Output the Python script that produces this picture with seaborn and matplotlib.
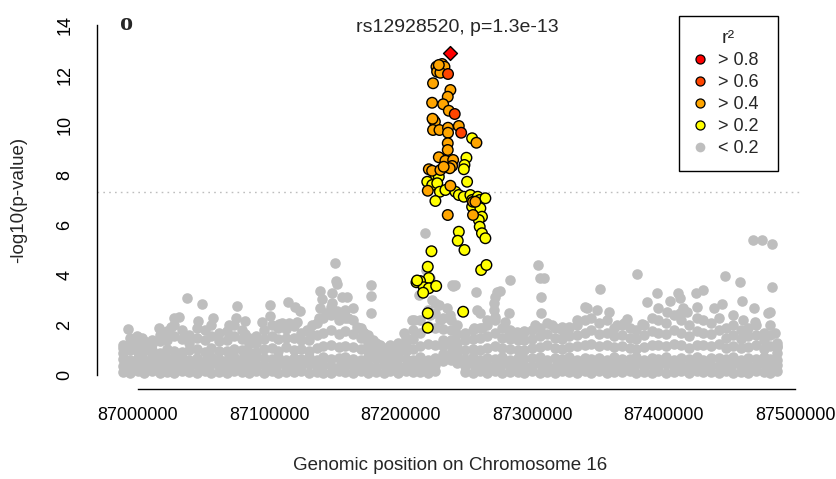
import matplotlib
matplotlib.use("Agg")
import matplotlib.pyplot as plt
from matplotlib.lines import Line2D
import numpy as np
import pandas as pd
import seaborn as sns

# ---------------- data (positions in kb relative to 87,000,000 on chr16) ----------------
REGION_START = 87_000_000

band_kb = [-11, -6, 0, 5, 11, 17, 22, 28, 34, 39, 45, 51, 56, 62, 68, 73, 79, 85, 90, 96,
           102, 107, 113, 119, 124, 130, 136, 141, 147, 153, 158, 164, 170, 175, 181, 187, 192, 198, 204, 209,
           215, 221, 226, 232, 238, 243, 249, 255, 260, 266, 272, 277, 283, 289, 294, 300, 306, 311, 317, 323,
           328, 334, 340, 345, 351, 357, 362, 368, 374, 379, 385, 391, 396, 402, 408, 413, 419, 425, 430, 436,
           442, 447, 453, 459, 464, 470, 476, 481, 486]
band_low = [0.12, 0.1, 0.15, 0.1, 0.18, 0.08, 0.14, 0.09, 0.17, 0.11,
            0.08, 0.16, 0.1, 0.13, 0.08, 0.18, 0.12, 0.09, 0.15, 0.1,
            0.18, 0.08, 0.13, 0.11, 0.17, 0.08, 0.14, 0.1, 0.09, 0.16,
            0.12, 0.09, 0.18, 0.08, 0.13, 0.1, 0.15, 0.09, 0.18, 0.11,
            0.14, 0.09, 0.16, 0.55, 0.6, 0.5, 0.12, 0.08, 0.15, 0.1,
            0.18, 0.09, 0.13, 0.11, 0.08, 0.16, 0.1, 0.14, 0.09, 0.18,
            0.12, 0.08, 0.15, 0.1, 0.17, 0.09, 0.13, 0.11, 0.18, 0.08,
            0.14, 0.1, 0.16, 0.09, 0.12, 0.18, 0.08, 0.15, 0.11, 0.13,
            0.09, 0.17, 0.1, 0.14, 0.08, 0.16, 0.12, 0.09, 0.15]
band_mid = [0.38, 0.34, 0.42, 0.35, 0.44, 0.33, 0.4, 0.37, 0.45, 0.34,
            0.41, 0.32, 0.43, 0.38, 0.35, 0.46, 0.37, 0.33, 0.42, 0.39,
            0.36, 0.44, 0.32, 0.41, 0.38, 0.45, 0.34, 0.42, 0.37, 0.33,
            0.44, 0.38, 0.35, 0.41, 0.32, 0.39, 0.43, 0.35, 0.38, 0.36,
            0.45, 0.34, 0.41, 0.85, 0.9, 0.8, 0.36, 0.43, 0.34, 0.4,
            0.37, 0.44, 0.33, 0.42, 0.38, 0.35, 0.46, 0.38, 0.34, 0.42,
            0.39, 0.32, 0.44, 0.36, 0.41, 0.35, 0.44, 0.38, 0.36, 0.43,
            0.33, 0.41, 0.38, 0.46, 0.34, 0.4, 0.37, 0.44, 0.35, 0.42,
            0.38, 0.33, 0.43, 0.36, 0.41, 0.35, 0.44, 0.38, 0.42]
band_upper = [0.65, 0.6, 0.7, 0.62, 0.73, 0.59, 0.68, 0.64, 0.72, 0.61,
              0.69, 0.58, 0.71, 0.66, 0.62, 0.74, 0.65, 0.6, 0.69, 0.67,
              0.63, 0.72, 0.59, 0.7, 0.66, 0.73, 0.61, 0.71, 0.63, 0.67,
              0.72, 0.65, 0.6, 0.71, 0.64, 0.68, 0.59, 0.7, 0.66, 0.62,
              0.73, 0.61, 0.69, 1.15, 1.2, 1.1, 0.65, 0.71, 0.6, 0.68,
              0.66, 0.72, 0.59, 0.7, 0.63, 0.67, 0.74, 0.62, 0.69, 0.65,
              0.71, 0.6, 0.7, 0.64, 0.68, 0.61, 0.73, 0.66, 0.63, 0.71,
              0.59, 0.69, 0.66, 0.74, 0.61, 0.68, 0.65, 0.72, 0.6, 0.7,
              0.67, 0.63, 0.71, 0.62, 0.69, 0.65, 0.73, 0.66, 0.61]
band_high = [0.9, 1.0, 0.92, 0.98, 1.02, 0.9, 1.05, 0.95, 0.93, 1.0,
             1.04, 0.92, 1.1, 0.98, 0.95, 1.06, 1.02, 0.9, 0.94, 1.03,
             1.08, 0.96, 1.12, 1.0, 1.06, 0.95, 1.1, 1.15, 1.2, 1.14,
             1.18, 1.12, 1.05, 0.98, 0.88, 0.86, 0.87, 0.9, 0.95, 1.05,
             1.15, 1.25, 1.22, 1.4, 1.4, 1.3, 1.0, 1.05, 1.02, 1.1,
             1.15, 1.08, 1.05, 1.02, 1.0, 1.08, 1.12, 1.2, 1.1, 1.05,
             1.12, 1.18, 1.22, 1.25, 1.15, 1.2, 1.12, 1.18, 1.1, 1.05,
             1.12, 1.22, 1.2, 1.15, 1.25, 1.2, 1.1, 1.22, 1.2, 1.15,
             1.24, 1.1, 1.15, 1.08, 1.12, 1.2, 1.05, 1.15, 0.9]
band_crest = [1.1, 1.3, 1.2, 1.15, 1.25, 1.35, 1.4, 1.55, 1.45, 1.3,
              1.5, 1.4, 1.55, 1.35, 1.4, 1.55, 1.45, 1.25, 1.3, 1.45,
              1.55, 1.45, 1.5, 1.5, 1.4, 1.4, 1.6, 1.7, 1.8, 1.65,
              1.75, 1.65, 1.5, 1.3, 1.1, 1.0, 1.05, 1.1, 1.25, 1.45,
              1.7, 1.95, 1.9, 1.85, 1.8, 1.65, 1.4, 1.45, 1.5, 1.55,
              1.7, 1.5, 1.45, 1.4, 1.4, 1.45, 1.55, 1.65, 1.5, 1.45,
              1.55, 1.6, 1.7, 1.8, 1.65, 1.7, 1.55, 1.6, 1.5, 1.45,
              1.6, 1.75, 1.7, 1.65, 1.8, 1.7, 1.55, 1.75, 1.7, 1.65,
              1.8, 1.5, 1.6, 1.45, 1.55, 1.6, 1.4, 1.6, 1.15]
band_top = [1.2, 1.5, 1.3, 1.35, 1.4, 1.6, 1.75, 2.0, 1.8, 1.6,
            1.9, 1.8, 2.0, 1.7, 1.75, 2.0, 1.8, 1.5, 1.55, 1.8,
            2.0, 1.9, 1.85, 1.95, 1.7, 1.75, 2.1, 2.3, 2.4, 2.2,
            2.3, 2.2, 1.9, 1.6, 1.3, 1.1, 1.2, 1.3, 1.5, 1.8,
            2.2, 2.6, 2.5, 2.3, 2.2, 2.0, 1.7, 1.8, 1.9, 2.0,
            2.2, 1.9, 1.8, 1.7, 1.75, 1.8, 1.9, 2.1, 1.9, 1.8,
            1.9, 2.0, 2.2, 2.3, 2.1, 2.2, 1.9, 2.0, 1.9, 1.8,
            2.0, 2.3, 2.2, 2.1, 2.4, 2.2, 2.0, 2.3, 2.2, 2.1,
            2.3, 1.9, 2.0, 1.8, 1.9, 2.0, 1.7, 2.0, 1.3]

# isolated low-LD (r2 < 0.2) SNPs above the dense band
gray_kb = [-7.5, -0.2, 3.5, 16, 25, 27.6, 31.4, 37.5, 46, 48.6, 57.5, 69.4, 75.5, 75, 81.3, 82, 94.7,
           100.3, 100.5, 107.4, 110, 114.5, 115, 119.5, 121.4, 123.5, 129, 130.2, 132.7, 137.8, 138.5,
           139, 140, 142.9, 146.7, 147.4, 148, 150, 151, 151.5, 151.7, 155.5, 158, 159.3, 157, 160, 164,
           167, 168, 171, 172, 177.6, 177.6, 177.6, 179, 184.6, 202.4, 208.7, 210, 218.8, 214, 217, 219,
           222, 224, 226, 222.6, 229, 230, 235.4, 237.8, 239, 240, 241.6, 255.5, 257.6, 258, 260.6, 262,
           265.7, 270.7, 271, 272, 272, 273.3, 275.8, 279.6, 282, 282, 283.4, 288.5, 293.5, 302, 304.5,
           306, 308.7, 307, 307, 315, 322.6, 327.7, 334, 340, 341.7, 349.3, 351.5, 358.1, 364.5, 369.5,
           372, 379.5, 383.5, 387.5, 395, 396, 402.5, 405, 411, 412.6, 412.6, 415, 417.7, 424.5, 425,
           430, 438, 444.3, 446.8, 453, 458.2, 459.5, 460.6, 467.8, 468.5, 469.6, 474.6, 479, 481, 482.2,
           482.7, 484.8, 486]
gray_logp = [1.84, 1.56, 1.5, 1.9, 1.93, 2.27, 2.33, 3.1, 2.17, 2.84, 2.3, 2.0, 2.77, 2.27, 2.16, 1.64, 2.13,
             2.81, 2.36, 2.04, 2.07, 2.93, 2.09, 2.73, 2.13, 2.55, 1.8, 1.73, 2.0, 2.27, 3.37,
             2.7, 3.03, 2.47, 2.73, 3.27, 2.87, 4.5, 3.77, 3.64, 2.57, 3.13, 2.6, 3.13, 2.5, 2.3, 2.7,
             1.93, 1.9, 1.73, 1.7, 3.6, 3.16, 2.5, 1.4, 1.2, 1.7, 2.2, 2.2, 5.67, 3.2, 3.6, 4.2,
             3.9, 3.0, 2.9, 2.4, 2.8, 2.2, 2.67, 2.4, 3.6, 3.57, 3.6, 1.87, 3.33, 2.6, 2.47, 1.87,
             2.2, 2.87, 2.6, 2.33, 3.13, 3.31, 3.37, 2.13, 2.47, 1.73, 3.8, 1.73, 1.73, 2.0, 4.4,
             3.87, 3.87, 3.13, 2.47, 2.0, 1.93, 1.93, 2.2, 2.73, 2.67, 2.6, 3.44, 2.53, 2.0, 2.07,
             2.25, 4.05, 2.05, 2.92, 3.29, 2.67, 2.53, 2.95, 3.27, 3.07, 2.47, 2.67, 2.53, 3.28, 2.73,
             3.42, 2.67, 2.83, 3.96, 2.4, 3.73, 2.96, 2.2, 5.4, 2.7, 2.13, 5.4, 2.5, 2.53, 5.24,
             3.53, 1.67, 1.13]

yellow_kb = [254.3, 250, 248.5, 248, 226.4, 229, 250.5, 220.2, 224, 227.8, 229.8, 234, 226.4, 241.6,
             244.2, 248, 253, 254.3, 258.6, 260.1, 264.4, 254.3, 260.6, 261.8, 259.4, 260.1, 261.8,
             264.4, 244.2, 243.4, 248.5, 223.4, 220.6, 261.2, 265.2, 221.4, 212, 214.7, 217.6, 221.4,
             227, 217.1, 220.6, 220.6, 247.5, 212.5]
yellow_logp = [9.47, 8.69, 8.4, 8.23, 8.0, 7.93, 7.73, 7.73, 7.6, 7.67, 7.33, 7.4, 6.96, 7.33,
               7.2, 7.13, 7.2, 7.0, 7.13, 7.0, 7.07, 6.73, 6.67, 6.33, 6.2, 5.93, 5.67,
               5.47, 5.73, 5.37, 5.0, 4.95, 4.33, 4.2, 4.4, 3.88, 3.71, 3.76, 3.51, 3.47,
               3.56, 3.29, 2.47, 1.89, 2.53, 3.78]

orange_kb = [227.2, 231.5, 233.3, 227.7, 230.2, 229, 224.6, 237.8, 235.8, 223.9, 232.3, 236.6, 225, 226,
             224.2, 224.6, 229.5, 236, 236, 244.2, 257.6, 235.8, 235.8, 229, 234, 239.9, 239.1, 237.3,
             221.4, 223.9, 230.2, 232.7, 237.8, 220.6, 235.8, 255, 256.8, 255]
orange_logp = [12.33, 12.44, 12.33, 12.13, 12.09, 12.4, 11.67, 11.4, 11.13, 10.89, 10.83, 10.57, 10.2, 10.13,
               10.25, 9.8, 9.8, 9.89, 9.69, 9.96, 9.29, 9.27, 9.0, 8.71, 8.57, 8.6, 8.36, 8.27,
               8.23, 8.17, 8.2, 8.33, 7.57, 7.37, 6.4, 6.93, 6.93, 6.4]

orangered_kb = [236, 241.1, 246]
orangered_logp = [12.04, 10.44, 9.69]

lead_kb = [237.3]
lead_logp = [12.89]
lead_snp = "rs12928520"
lead_p = "1.3e-13"

gw_threshold = -np.log10(5e-8)

x_ticks = [87000000, 87100000, 87200000, 87300000, 87400000, 87500000]
y_ticks = [0, 2, 4, 6, 8, 10, 12, 14]

legend_labels = ["> 0.8", "> 0.6", "> 0.4", "> 0.2", "< 0.2"]
legend_colors = ["#FF0000", "#FF4500", "#FFA500", "#FFFF00", "#BEBEBE"]

# ---------------- build tables ----------------
def to_pos(kb):
    return REGION_START + np.asarray(kb, dtype=float) * 1000.0

band_rows = [band_low, band_mid, band_upper, band_high, band_crest, band_top]
band_pos = np.concatenate([to_pos(band_kb)] * len(band_rows))
band_vals = np.concatenate(band_rows)
gray_df = pd.DataFrame({
    "pos": np.concatenate([band_pos, to_pos(gray_kb)]),
    "logp": np.concatenate([band_vals, gray_logp]),
})

col_df = pd.DataFrame({
    "pos": np.concatenate([to_pos(yellow_kb), to_pos(orange_kb), to_pos(orangered_kb)]),
    "logp": np.concatenate([yellow_logp, orange_logp, orangered_logp]),
    "r2": (["> 0.2"] * len(yellow_kb) + ["> 0.4"] * len(orange_kb) + ["> 0.6"] * len(orangered_kb)),
})
lead_df = pd.DataFrame({"pos": to_pos(lead_kb), "logp": lead_logp})

# ---------------- plot ----------------
sns.set_style("white")
plt.rcParams["font.family"] = ["Liberation Sans", "DejaVu Sans"]

W, H = 836, 479
fig = plt.figure(figsize=(W / 100, H / 100), dpi=100)
ax = fig.add_axes([97 / W, (H - 389) / H, (803 - 97) / W, (389 - 11) / H])

S = 58
sns.scatterplot(data=gray_df, x="pos", y="logp", color="#BEBEBE", s=S, linewidth=0,
                ax=ax, legend=False, zorder=2)
ax.axhline(gw_threshold, color="#BEBEBE", lw=1.0, ls=(0, (1.2, 3)), zorder=1)
palette = dict(zip(legend_labels, legend_colors))
sns.scatterplot(data=col_df, x="pos", y="logp", hue="r2", palette=palette, s=S,
                edgecolor="black", linewidth=1.0, ax=ax, legend=False, zorder=3)
sns.scatterplot(data=lead_df, x="pos", y="logp", color="#FF0000", marker="D", s=50,
                edgecolor="black", linewidth=1.0, ax=ax, legend=False, zorder=4)

ax.set_xlim(REGION_START - 30900, REGION_START + 505900)
ax.set_ylim(-0.56, 14.56)

for side in ["top", "right"]:
    ax.spines[side].set_visible(False)
ax.spines["left"].set_bounds(0, 14)
ax.spines["bottom"].set_bounds(x_ticks[0], x_ticks[-1])
for side in ["left", "bottom"]:
    ax.spines[side].set_linewidth(1.0)
    ax.spines[side].set_color("black")

ax.set_xticks(x_ticks)
ax.set_xticklabels([str(t) for t in x_ticks])
ax.set_yticks(y_ticks)
ax.set_yticklabels([str(t) for t in y_ticks], rotation=90, va="center")
ax.tick_params(axis="both", direction="out", length=7, width=1.0, colors="black", labelsize=13)
ax.tick_params(axis="x", pad=6)
ax.tick_params(axis="y", pad=10)

ax.set_xlabel("")
ax.set_ylabel("")
fig.text(450 / W, 1 - 466 / H, "Genomic position on Chromosome 16", ha="center", va="center", fontsize=13.5)
fig.text(19 / W, 1 - 200 / H, "-log10(p-value)", ha="center", va="center", rotation=90, fontsize=13.5)
fig.text(457 / W, 1 - 27 / H, f"{lead_snp}, p={lead_p}", ha="center", va="center", fontsize=14)
fig.text(127 / W, 1 - 30.5 / H, "o", ha="center", va="baseline", fontsize=19, fontweight="bold",
         family="Liberation Serif")

handles = []
for lab, c in zip(legend_labels, legend_colors):
    if lab == "< 0.2":
        handles.append(Line2D([], [], ls="none", marker="o", markersize=7, markerfacecolor=c,
                              markeredgecolor=c, markeredgewidth=0))
    else:
        handles.append(Line2D([], [], ls="none", marker="o", markersize=6.5, markerfacecolor=c,
                              markeredgecolor="black", markeredgewidth=0.9))
leg = fig.legend(handles, legend_labels, title="r²", loc="upper left",
                 bbox_to_anchor=(679 / W, 1 - 171 / H, 99 / W, 155 / H), bbox_transform=fig.transFigure,
                 mode="expand", frameon=True, fancybox=False, edgecolor="black", framealpha=1,
                 fontsize=13, title_fontsize=14, borderpad=0.78, labelspacing=0.28,
                 handlelength=0.8, handletextpad=0.6, borderaxespad=0)
leg.get_frame().set_linewidth(1.0)

fig.savefig("out.png", dpi=100)
